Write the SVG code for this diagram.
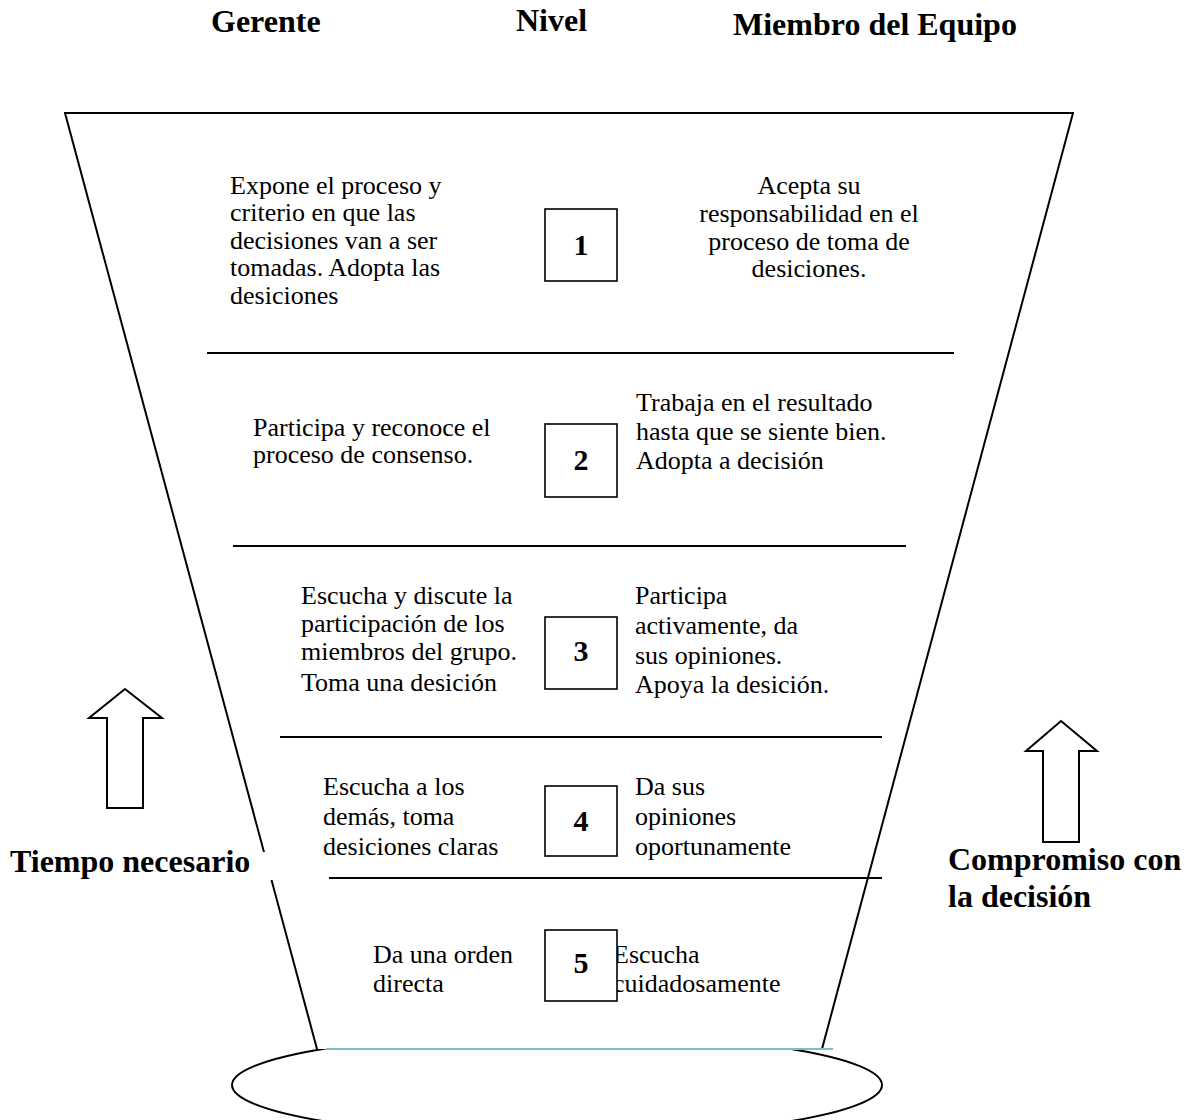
<svg xmlns="http://www.w3.org/2000/svg" width="1201" height="1120" viewBox="0 0 1201 1120">
<style>
  .t { font-family: "Liberation Serif", "Times New Roman", serif; font-size: 26px; fill: #000; }
  .h { font-family: "Liberation Serif", "Times New Roman", serif; font-size: 32px; font-weight: bold; fill: #000; }
  .n { font-family: "Liberation Serif", "Times New Roman", serif; font-size: 30px; font-weight: bold; fill: #000; text-anchor: middle; }
  .box { fill: #fff; stroke: #000; stroke-width: 1.6; }
  .ln { stroke: #000; stroke-width: 2; fill: none; }
  .arrow { fill: #fff; stroke: #000; stroke-width: 2; stroke-linejoin: miter; }
</style>
<rect width="1201" height="1120" fill="#fff"/>

<g id="base">
  <ellipse cx="557" cy="1085" rx="325" ry="52" fill="#fff" stroke="#000" stroke-width="2"/>
</g>

<g id="funnel">
  <polygon points="65,113 1073,113 822,1049 317,1049" fill="#fff" stroke="none"/>
  <line class="ln" x1="64" y1="113" x2="1074" y2="113"/>
  <line class="ln" x1="65" y1="113" x2="317" y2="1049"/>
  <line class="ln" x1="1073" y1="113" x2="822" y2="1049"/>
  <line x1="326" y1="1049" x2="833" y2="1049" stroke="#7fbfc4" stroke-width="2"/>
</g>

<g id="connectors">
  <line class="ln" x1="207" y1="353" x2="954" y2="353"/>
  <line class="ln" x1="233" y1="546" x2="906" y2="546"/>
  <line class="ln" x1="280" y1="737" x2="882" y2="737"/>
  <line class="ln" x1="329" y1="878" x2="882" y2="878"/>
</g>

<g id="headers">
  <text class="h" x="211" y="32">Gerente</text>
  <text class="h" x="516" y="31">Nivel</text>
  <text class="h" x="733" y="35">Miembro del Equipo</text>
</g>

<g id="level1">
  <text class="t" x="230" y="194">Expone el proceso y</text>
  <text class="t" x="230" y="221">criterio en que las</text>
  <text class="t" x="230" y="249">decisiones van a ser</text>
  <text class="t" x="230" y="276">tomadas. Adopta las</text>
  <text class="t" x="230" y="304">desiciones</text>
  <rect class="box" x="545" y="209" width="72" height="72"/>
  <text class="n" x="581" y="255">1</text>
  <text class="t" x="809" y="194" text-anchor="middle">Acepta su</text>
  <text class="t" x="809" y="222" text-anchor="middle">responsabilidad en el</text>
  <text class="t" x="809" y="250" text-anchor="middle">proceso de toma de</text>
  <text class="t" x="809" y="277" text-anchor="middle">desiciones.</text>
</g>

<g id="level2">
  <text class="t" x="253" y="436">Participa y reconoce el</text>
  <text class="t" x="253" y="463">proceso de consenso.</text>
  <rect class="box" x="545" y="424" width="72" height="73"/>
  <text class="n" x="581" y="470">2</text>
  <text class="t" x="636" y="411">Trabaja en el resultado</text>
  <text class="t" x="636" y="440">hasta que se siente bien.</text>
  <text class="t" x="636" y="469">Adopta a decisión</text>
</g>

<g id="level3">
  <text class="t" x="301" y="604">Escucha y discute la</text>
  <text class="t" x="301" y="632">participación de los</text>
  <text class="t" x="301" y="660">miembros del grupo.</text>
  <text class="t" x="301" y="691">Toma una desición</text>
  <rect class="box" x="545" y="617" width="72" height="72"/>
  <text class="n" x="581" y="661">3</text>
  <text class="t" x="635" y="604">Participa</text>
  <text class="t" x="635" y="634">activamente, da</text>
  <text class="t" x="635" y="664">sus opiniones.</text>
  <text class="t" x="635" y="693">Apoya la desición.</text>
</g>

<g id="level4">
  <text class="t" x="323" y="795">Escucha a los</text>
  <text class="t" x="323" y="825">demás, toma</text>
  <text class="t" x="323" y="855">desiciones claras</text>
  <rect class="box" x="545" y="786" width="72" height="70"/>
  <text class="n" x="581" y="831">4</text>
  <text class="t" x="635" y="795">Da sus</text>
  <text class="t" x="635" y="825">opiniones</text>
  <text class="t" x="635" y="855">oportunamente</text>
</g>

<g id="level5">
  <text class="t" x="373" y="963">Da una orden</text>
  <text class="t" x="373" y="992">directa</text>
  <text class="t" x="613" y="963">Escucha</text>
  <text class="t" x="613" y="992">cuidadosamente</text>
  <rect class="box" x="545" y="930" width="72" height="71"/>
  <text class="n" x="581" y="973">5</text>
</g>

<g id="arrow-left">
  <polygon class="arrow" points="125,689 162,718 143,718 143,808 107,808 107,718 89,718"/>
</g>
<g id="arrow-right">
  <polygon class="arrow" points="1061,721 1097,751 1079,751 1079,842 1043,842 1043,751 1026,751"/>
</g>

<g id="label-left">
  <rect x="5" y="852" width="270" height="28" fill="#fff"/>
  <text class="h" x="10" y="872">Tiempo necesario</text>
</g>
<g id="label-right">
  <text class="h" x="948" y="870">Compromiso con</text>
  <text class="h" x="948" y="907">la decisión</text>
</g>
</svg>
